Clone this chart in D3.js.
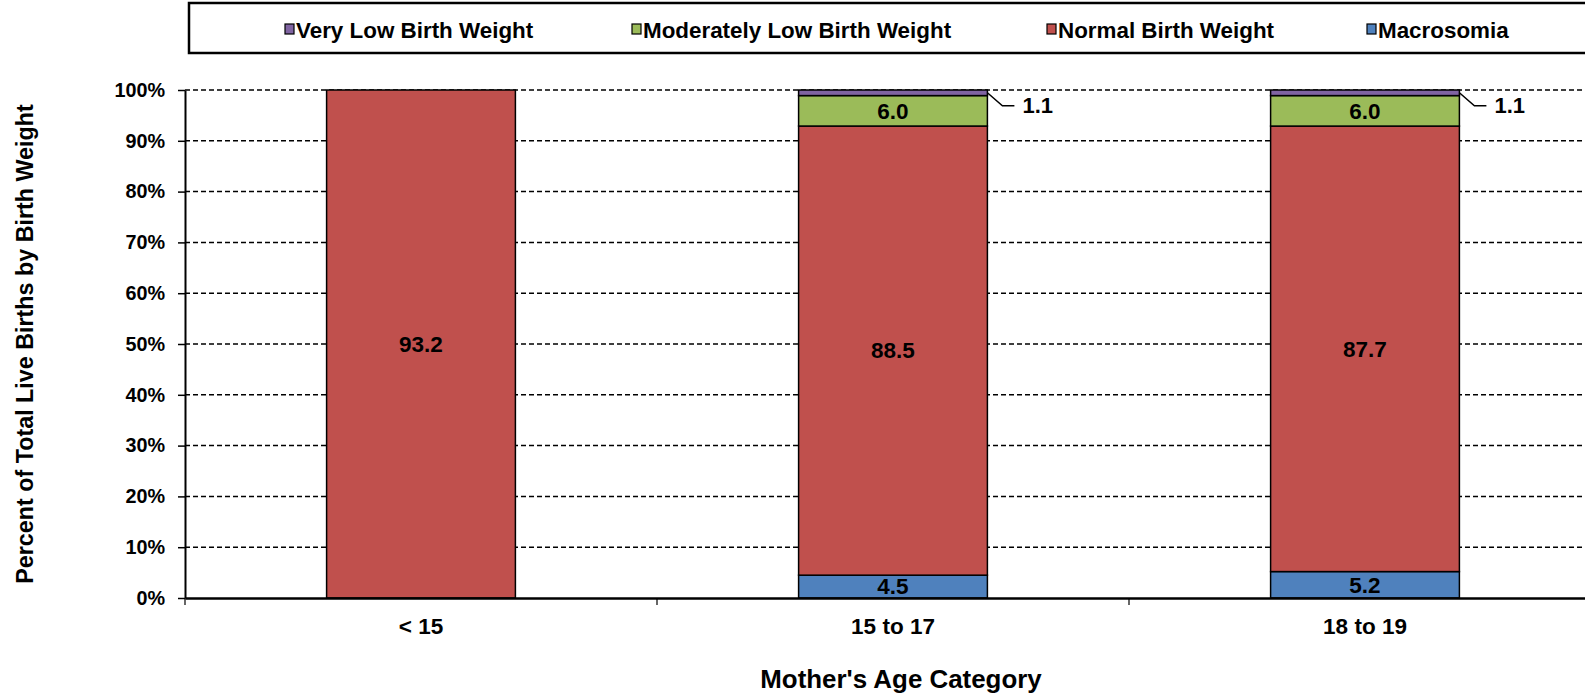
<!DOCTYPE html>
<html><head><meta charset="utf-8">
<script src="https://cdn.jsdelivr.net/npm/d3@7"></script>
<style>body{margin:0;background:#fff;}svg{display:block;font-family:Arial,"Liberation Sans",sans-serif;font-weight:bold;}</style>
</head><body>
<svg id="c" width="1585" height="698"></svg>
<script>
const categories = ["< 15", "15 to 17", "18 to 19"];
const seriesNames = ["Macrosomia", "Normal Birth Weight", "Moderately Low Birth Weight", "Very Low Birth Weight"];
const macrosomia = [0, 4.5, 5.2];
const normalBW = [93.2, 88.5, 87.7];
const moderatelyLow = [0, 6.0, 6.0];
const veryLow = [0, 1.1, 1.1];
const yTicks = [0, 0.1, 0.2, 0.3, 0.4, 0.5, 0.6, 0.7, 0.8, 0.9, 1.0];
const legendOrder = ["Very Low Birth Weight", "Moderately Low Birth Weight", "Normal Birth Weight", "Macrosomia"];
const colors = {"Macrosomia":"#4F81BD","Normal Birth Weight":"#C0504D","Moderately Low Birth Weight":"#9BBB59","Very Low Birth Weight":"#8064A2"};

const rows = categories.map((c,i)=>({cat:c,"Macrosomia":macrosomia[i],"Normal Birth Weight":normalBW[i],"Moderately Low Birth Weight":moderatelyLow[i],"Very Low Birth Weight":veryLow[i]}));
const stack = d3.stack().keys(seriesNames).offset(d3.stackOffsetExpand);
const series = stack(rows);

const svg = d3.select("#c");
const FONT = "Arial, 'Liberation Sans', sans-serif";
const mLeft = 185, mTop = 90, mBottom = 598, mRight = 1601;
const x = d3.scaleBand().domain(categories).range([mLeft, mRight]).paddingInner(0.6).paddingOuter(0.3);
const y = d3.scaleLinear().domain([0,1]).range([mBottom, mTop]);

// gridlines
svg.append("g").selectAll("line").data(yTicks.filter(t=>t>0)).join("line")
  .attr("x1", mLeft).attr("x2", 1585).attr("y1", d=>y(d)).attr("y2", d=>y(d))
  .attr("stroke","#000").attr("stroke-width",1.5).attr("stroke-dasharray","5,3");

// bars
const g = svg.append("g");
series.forEach(s=>{
  g.append("g").selectAll("rect").data(s.filter(d=>d[1]-d[0]>0)).join("rect")
    .attr("x", d=>x(d.data.cat)).attr("width", x.bandwidth())
    .attr("y", d=>y(d[1])).attr("height", d=>y(d[0])-y(d[1]))
    .attr("fill", colors[s.key]).attr("stroke","#000").attr("stroke-width",1.5);
});

// labels
series.forEach(s=>{
  s.forEach((d,i)=>{
    const v = rows[i][s.key];
    if (!(v>0)) return;
    const cx = x(d.data.cat) + x.bandwidth()/2;
    if (s.key === "Very Low Birth Weight") {
      const bx = x(d.data.cat) + x.bandwidth();
      const by = y((d[0]+d[1])/2);
      svg.append("polyline").attr("points", `${bx},${by} ${bx+15},${by+13} ${bx+27},${by+13}`)
        .attr("fill","none").attr("stroke","#000").attr("stroke-width",1.5);
      svg.append("text").attr("x", bx+35).attr("y", by+13).attr("dy","0.35em")
        .attr("font-size",22).text(d3.format(".1f")(v));
    } else {
      svg.append("text").attr("x", cx).attr("y", y((d[0]+d[1])/2)).attr("dy","0.35em")
        .attr("text-anchor","middle").attr("font-size",22.5).text(d3.format(".1f")(v));
    }
  });
});

// y axis
const yAxis = svg.append("g").attr("transform",`translate(${mLeft},0)`)
  .call(d3.axisLeft(y).tickValues(yTicks).tickFormat(d3.format(".0%")).tickSize(7).tickSizeOuter(0));
yAxis.select(".domain").attr("stroke","#000").attr("stroke-width",2);
yAxis.selectAll(".tick line").attr("stroke","#000").attr("stroke-width",1.5);
yAxis.selectAll("text").attr("font-size",19.8).attr("font-weight","bold").attr("font-family",FONT).attr("fill","#000").attr("x",-20);

// x axis
const xAxis = svg.append("g").attr("transform",`translate(0,${mBottom})`)
  .call(d3.axisBottom(x).tickSize(0).tickSizeOuter(0));
xAxis.select(".domain").attr("stroke","#000").attr("stroke-width",2.5);
xAxis.selectAll("text").attr("font-size",22.5).attr("font-weight","bold").attr("font-family",FONT).attr("fill","#000").attr("y",20);
// category boundary ticks
const bounds = categories.map((c,i)=> i===0 ? mLeft : x(c) - x.step()*x.paddingInner()/2);
svg.append("g").selectAll("line").data(bounds).join("line")
  .attr("x1",d=>d).attr("x2",d=>d).attr("y1",mBottom).attr("y2",mBottom+7)
  .attr("stroke","#000").attr("stroke-width",1.2);

// axis titles
svg.append("text").attr("transform",`translate(33,344) rotate(-90)`).attr("text-anchor","middle")
  .attr("font-size",23.3).text("Percent of Total Live Births by Birth Weight");
svg.append("text").attr("x",901).attr("y",688).attr("text-anchor","middle")
  .attr("font-size",25.9).text("Mother's Age Category");

// legend
svg.append("rect").attr("x",189).attr("y",3).attr("width",1420).attr("height",50)
  .attr("fill","#fff").attr("stroke","#000").attr("stroke-width",2.5);
const legX = [285, 632, 1047, 1367];
legendOrder.forEach((k,i)=>{
  svg.append("rect").attr("x",legX[i]).attr("y",24).attr("width",9).attr("height",10)
    .attr("fill",colors[k]).attr("stroke","#000").attr("stroke-width",1.2);
  svg.append("text").attr("x",legX[i]+11).attr("y",30).attr("dy","0.35em")
    .attr("font-size",22.4).text(k);
});
</script>
</body></html>
